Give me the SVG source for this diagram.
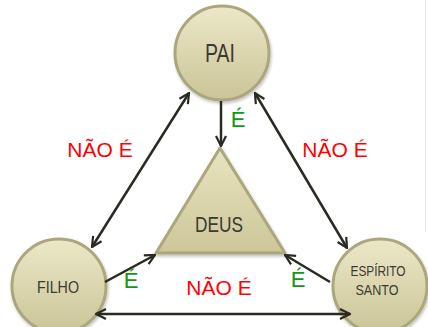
<svg xmlns="http://www.w3.org/2000/svg" width="428" height="327" viewBox="0 0 428 327">
<defs>
<style>
.node{stroke:#aba67c;stroke-width:3}
.lbl{font-family:"Liberation Sans",Arial,sans-serif;fill:#3a3a32;text-anchor:middle}
.conn{stroke:#2a2a22;stroke-width:2.5;fill:none}
.no{font-family:"Liberation Sans",Arial,sans-serif;font-size:21px;fill:#ff0000;text-anchor:middle}
.yes{font-family:"Liberation Sans",Arial,sans-serif;font-size:22px;fill:#119911;text-anchor:middle}
</style>
<linearGradient id="gc" x1="0" y1="0" x2="0" y2="1">
<stop offset="0" stop-color="#ece8c8"/>
<stop offset="1" stop-color="#cbc497"/>
</linearGradient>
<linearGradient id="gt" x1="0" y1="0" x2="0" y2="1">
<stop offset="0" stop-color="#e8e4bf"/>
<stop offset="1" stop-color="#cdc699"/>
</linearGradient>
<filter id="sh" x="-20%" y="-20%" width="140%" height="140%">
<feDropShadow dx="1" dy="2" stdDeviation="1.5" flood-color="#000" flood-opacity="0.25"/>
</filter>
<marker id="ar" viewBox="0 0 12 12" refX="11" refY="6" markerWidth="12" markerHeight="12" markerUnits="userSpaceOnUse" orient="auto-start-reverse">
<path d="M1,1 L11,6 L1,11" fill="none" stroke="#2a2a22" stroke-width="2.2"/>
</marker>
</defs>
<rect width="428" height="327" fill="#fff"/>
<line x1="425.5" y1="0" x2="425.5" y2="232" stroke="#e4e4e4" stroke-width="1"/>
<g id="pai">
<circle class="node" cx="222" cy="53" r="47" fill="url(#gc)" filter="url(#sh)"/>
<text class="lbl" x="220" y="62" font-size="26" textLength="30" lengthAdjust="spacingAndGlyphs">PAI</text>
</g>
<g id="deus">
<polygon class="node" points="220,148 156,253 285,253" fill="url(#gt)" filter="url(#sh)" stroke-linejoin="round"/>
<text class="lbl" x="219" y="232" font-size="22" textLength="48" lengthAdjust="spacingAndGlyphs">DEUS</text>
</g>
<g id="filho">
<circle class="node" cx="59" cy="286" r="47" fill="url(#gc)" filter="url(#sh)"/>
<text class="lbl" x="58" y="293" font-size="17" textLength="42" lengthAdjust="spacingAndGlyphs">FILHO</text>
</g>
<g id="espirito">
<circle class="node" cx="380" cy="286" r="47" fill="url(#gc)" filter="url(#sh)"/>
<text class="lbl" x="378" y="276" font-size="15" textLength="55" lengthAdjust="spacingAndGlyphs">ESPÍRITO</text>
<text class="lbl" x="377" y="295" font-size="15" textLength="43" lengthAdjust="spacingAndGlyphs">SANTO</text>
</g>
<g id="connectors">
<line class="conn" x1="189" y1="93" x2="92" y2="247" marker-start="url(#ar)" marker-end="url(#ar)"/>
<line class="conn" x1="255" y1="93" x2="347" y2="248" marker-start="url(#ar)" marker-end="url(#ar)"/>
<line class="conn" x1="96" y1="314" x2="350" y2="314" marker-start="url(#ar)" marker-end="url(#ar)"/>
<line class="conn" x1="221" y1="101" x2="221" y2="146" marker-end="url(#ar)"/>
<line class="conn" x1="105" y1="282" x2="155" y2="255" marker-end="url(#ar)"/>
<line class="conn" x1="330" y1="282" x2="285" y2="255" marker-end="url(#ar)"/>
</g>
<g id="labels">
<text class="no" x="100" y="157">NÃO É</text>
<text class="no" x="335" y="157">NÃO É</text>
<text class="no" x="219" y="295">NÃO É</text>
<text class="yes" x="238" y="127">É</text>
<text class="yes" x="131" y="288">É</text>
<text class="yes" x="298" y="287">É</text>
</g>
</svg>
